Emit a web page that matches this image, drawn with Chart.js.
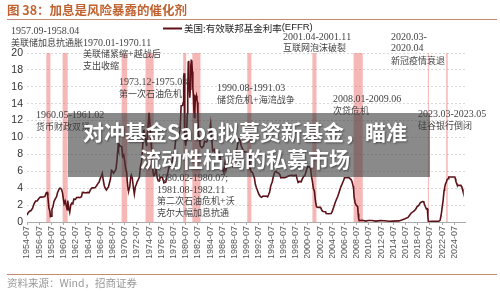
<!DOCTYPE html>
<html>
<head>
<meta charset="utf-8">
<script src="https://cdn.jsdelivr.net/npm/chart.js@4.4.1/dist/chart.umd.min.js"></script>
<style>
  html, body { margin: 0; padding: 0; background: #fff; }
  #wrap { position: relative; width: 500px; height: 292px; }
  #banner {
    position: absolute; left: 68px; top: 113px; width: 362px; height: 64px;
    box-sizing: border-box; padding: 5px 8px 0 0;
    background: rgba(60, 60, 60, 0.6); color: #fff;
    font-family: "Noto Sans CJK SC", sans-serif; font-weight: 700;
    font-size: 21px; line-height: 27px; text-align: center;
    text-shadow: 1px 1px 2px rgba(0, 0, 0, 0.45);
  }
</style>
</head>
<body>
<div id="wrap">
  <canvas id="chart" width="500" height="292"></canvas>
  <div id="banner">对冲基金Saba拟募资新基金，瞄准<br>流动性枯竭的私募市场</div>
</div>
<script>
// EFFR (month, %)
const months = [
  "1954-07","1954-09","1954-12","1955-03","1955-06","1955-09","1955-12","1956-03","1956-06","1956-09","1956-12",
  "1957-03","1957-06","1957-09","1957-11","1957-12","1958-02","1958-04","1958-05","1958-07","1958-08","1958-10","1958-12",
  "1959-03","1959-05","1959-07","1959-09","1959-11","1960-01","1960-03","1960-05","1960-06","1960-08","1960-10","1960-12",
  "1961-02","1961-03","1961-05","1961-07","1961-09","1961-11","1962-01","1962-03","1962-06","1962-09","1962-12",
  "1963-03","1963-06","1963-08","1963-12","1964-03","1964-06","1964-09","1964-12","1965-03","1965-06","1965-09","1965-12",
  "1966-03","1966-05","1966-07","1966-09","1966-11","1967-01","1967-03","1967-05","1967-07","1967-09","1967-11",
  "1968-01","1968-03","1968-05","1968-07","1968-09","1968-12","1969-02","1969-04","1969-06","1969-07","1969-08","1969-10","1969-12",
  "1970-01","1970-03","1970-05","1970-07","1970-09","1970-11","1970-12","1971-02","1971-03","1971-05","1971-07","1971-08","1971-10","1971-12",
  "1972-02","1972-04","1972-06","1972-08","1972-10","1972-12","1973-02","1973-04","1973-06","1973-08","1973-09","1973-11","1973-12",
  "1974-02","1974-04","1974-05","1974-07","1974-09","1974-10","1974-12","1975-02","1975-04","1975-06","1975-08","1975-09","1975-11",
  "1976-01","1976-03","1976-05","1976-07","1976-09","1976-11","1976-12","1977-02","1977-04","1977-06","1977-08","1977-10","1977-12",
  "1978-03","1978-05","1978-07","1978-09","1978-11","1978-12","1979-03","1979-06","1979-08","1979-10","1979-12",
  "1980-01","1980-02","1980-03","1980-04","1980-05","1980-06","1980-07","1980-08","1980-09","1980-10","1980-11","1980-12",
  "1981-01","1981-02","1981-03","1981-04","1981-05","1981-06","1981-07","1981-08","1981-09","1981-10","1981-11","1981-12",
  "1982-01","1982-02","1982-03","1982-04","1982-05","1982-06","1982-07","1982-08","1982-09","1982-10","1982-11","1982-12",
  "1983-03","1983-06","1983-08","1983-12","1984-03","1984-05","1984-08","1984-10","1984-12","1985-03","1985-05","1985-08","1985-12",
  "1986-02","1986-04","1986-08","1986-10","1986-12","1987-02","1987-05","1987-09","1987-12","1988-03","1988-06","1988-09","1988-12",
  "1989-03","1989-05","1989-08","1989-12","1990-03","1990-06","1990-09","1990-11","1990-12","1991-02","1991-04","1991-06","1991-08","1991-10","1991-12",
  "1992-02","1992-04","1992-07","1992-10","1992-12","1993-03","1993-06","1993-09","1993-12","1994-02","1994-04","1994-06","1994-09","1994-11",
  "1995-02","1995-05","1995-07","1995-10","1995-12","1996-02","1996-06","1996-10","1997-03","1997-07","1997-11","1998-03","1998-08","1998-10","1998-12",
  "1999-03","1999-06","1999-08","1999-11","2000-01","2000-03","2000-05","2000-07","2000-11","2000-12",
  "2001-01","2001-02","2001-04","2001-06","2001-08","2001-10","2001-12","2002-03","2002-08","2002-11","2003-01","2003-06","2003-07","2003-12",
  "2004-05","2004-07","2004-09","2004-12","2005-03","2005-06","2005-09","2005-12","2006-03","2006-06","2006-07","2006-12",
  "2007-04","2007-08","2007-10","2007-12","2008-01","2008-02","2008-04","2008-06","2008-09","2008-10","2008-11","2008-12",
  "2009-06","2010-01","2010-06","2011-01","2011-08","2012-06","2013-01","2013-12","2014-06","2015-06","2015-12",
  "2016-06","2016-12","2017-03","2017-06","2017-12","2018-03","2018-06","2018-09","2018-12","2019-04","2019-07","2019-08","2019-10","2019-12",
  "2020-02","2020-03","2020-04","2020-12","2021-06","2021-12","2022-03","2022-05","2022-07","2022-09","2022-11","2022-12",
  "2023-02","2023-03","2023-05","2023-07","2023-08","2024-08","2024-09","2024-10","2024-11","2024-12",
  "2025-01","2025-08","2025-09","2025-10","2025-11","2025-12"
];
const rates = [
  0.80,1.07,1.28,1.35,1.64,2.18,2.48,2.50,2.75,2.96,2.94,
  2.96,3.00,3.47,3.50,2.98,1.67,1.26,0.63,0.68,1.53,1.80,2.42,
  2.80,2.96,3.47,3.76,3.98,3.99,3.84,3.39,2.92,2.17,2.47,1.98,
  1.45,2.54,1.73,1.16,2.00,2.23,2.15,2.71,2.68,2.90,2.93,
  2.88,3.00,3.50,3.48,3.43,3.50,3.45,3.85,4.04,4.04,4.07,4.32,
  4.60,4.76,5.17,5.40,5.76,4.94,4.26,3.98,3.79,3.99,4.12,
  4.61,5.05,6.12,6.02,5.78,6.02,6.30,7.41,8.90,8.61,9.19,9.00,8.97,
  8.98,7.76,7.94,7.21,6.30,5.83,4.90,3.72,3.71,4.15,5.40,5.57,5.20,4.14,
  3.30,4.17,4.46,4.81,5.06,5.33,6.58,7.12,8.49,10.78,10.84,10.03,9.95,
  8.97,10.51,11.31,12.92,11.34,10.06,8.53,6.24,5.49,5.55,6.14,6.24,5.22,
  4.87,4.84,5.29,5.31,5.25,4.95,4.65,4.68,4.73,5.39,5.90,6.47,6.56,
  6.79,7.36,7.81,8.45,9.58,10.03,10.09,10.29,10.94,13.77,13.78,
  13.82,14.13,17.19,17.61,10.98,9.47,9.03,9.61,10.87,12.81,15.85,18.90,
  19.08,15.93,14.70,15.72,18.52,19.10,19.04,17.82,15.87,15.08,13.31,12.37,
  13.22,14.78,14.68,14.94,14.45,14.15,12.59,10.12,10.31,9.71,9.20,8.95,
  8.77,8.98,9.56,9.47,9.91,10.32,11.64,9.99,8.38,8.58,7.97,7.90,8.27,
  7.86,6.99,6.17,5.85,6.91,6.10,6.85,7.22,6.77,6.58,7.51,8.19,8.76,
  9.85,9.81,9.02,8.45,8.28,8.29,8.20,7.81,7.31,6.25,5.91,5.90,5.57,5.21,4.43,
  4.06,3.73,3.25,2.99,2.92,3.07,3.04,3.06,2.96,3.25,3.56,4.25,4.73,5.29,
  5.92,6.01,5.85,5.76,5.60,5.22,5.27,5.24,5.39,5.51,5.52,5.49,5.55,5.07,4.68,
  4.81,4.76,5.07,5.42,5.45,5.85,6.27,6.54,6.51,6.40,
  5.98,5.49,4.80,3.97,3.65,2.49,1.82,1.73,1.74,1.34,1.24,1.22,1.01,0.98,
  1.00,1.26,1.61,2.16,2.63,3.04,3.62,4.16,4.59,4.99,5.24,5.24,
  5.25,5.02,4.76,4.24,3.94,2.98,2.28,2.00,1.81,0.97,0.39,0.16,
  0.21,0.11,0.18,0.17,0.10,0.16,0.14,0.09,0.10,0.13,0.24,
  0.38,0.54,0.79,1.04,1.30,1.51,1.82,1.95,2.27,2.42,2.40,2.13,1.83,1.55,
  1.58,0.65,0.05,0.09,0.08,0.08,0.20,0.77,1.68,2.56,3.78,4.10,
  4.57,4.65,5.06,5.12,5.33,5.33,5.13,4.83,4.64,4.48,
  4.33,4.33,4.22,4.09,3.88,3.64
];
const tickLabels = [
  "1954-07","1956-07","1958-07","1960-07","1962-07","1964-07","1966-07","1968-07","1970-07","1972-07","1974-07","1976-07",
  "1978-07","1980-07","1982-07","1984-07","1986-07","1988-07","1990-07","1992-07","1994-07","1996-07","1998-07","2000-07",
  "2002-07","2004-07","2006-07","2008-07","2010-07","2012-07","2014-07","2016-07","2018-07","2020-07","2022-07","2024-07"
];
// shaded periods, first and last month
const recessions = [
  ["1957-09","1958-04"],["1960-05","1961-02"],["1970-01","1970-11"],["1973-12","1975-03"],
  ["1980-02","1980-07"],["1981-08","1982-11"],["1990-08","1991-03"],["2001-04","2001-11"],
  ["2008-01","2009-06"],["2020-03","2020-04"],["2023-03","2023-05"]
];

// text notes in the plot (pixel layout)
const notes = [
  [11, 31, "1957.09-1958.04"], [11, 43, "美联储加息抗通胀"], [83, 43, "1970.01-1970.11"],
  [83, 54, "美联储紧缩+越战后"], [83, 66, "支出收缩"],
  [119, 82, "1973.12-1975.03"], [119, 94, "第一次石油危机"],
  [36, 115, "1960.05-1961.02"], [36, 127, "货币财政双紧"],
  [217, 88, "1990.08-1991.03"], [217, 100, "储贷危机+海湾战争"],
  [283, 37, "2001.04-2001.11"], [283, 48, "互联网泡沫破裂"],
  [391, 37, "2020.03-"], [391, 48, "2020.04"], [391, 61, "新冠疫情衰退"],
  [333, 99, "2008.01-2009.06"], [333, 111, "次贷危机"],
  [418, 114, "2023.03-2023.05"], [418, 126, "硅谷银行倒闭"],
  [157, 178, "1980.02-1980.07;"], [157, 190, "1981.08-1982.11"],
  [157, 201, "第二次石油危机+沃"], [157, 213, "克尔大幅加息抗通"]
];

function toYear(s) {
  const [y, m] = s.split("-").map(Number);
  return y + (m - 1) / 12;
}

// latin in serif, CJK in Noto, like the source's mixed fonts
function drawMixed(ctx, text, x, y) {
  let cx = x;
  for (const ch of text) {
    const cjk = ch.charCodeAt(0) > 0x2e80;
    ctx.font = cjk ? '9px "Noto Sans CJK SC"' : '10px "Liberation Serif"';
    ctx.fillText(ch, cx, y);
    cx += ctx.measureText(ch).width;
  }
}

const bands = {
  id: "bands",
  beforeDatasetsDraw(chart) {
    const { ctx, chartArea, scales } = chart;
    ctx.save();
    ctx.fillStyle = "rgba(238, 112, 112, 0.5)";
    recessions.forEach(([a, b]) => {
      const x0 = scales.x.getPixelForValue(toYear(a));
      const x1 = scales.x.getPixelForValue(toYear(b) + 1 / 12);
      ctx.fillRect(x0, chartArea.top, x1 - x0, chartArea.bottom - chartArea.top);
    });
    ctx.restore();
  }
};

const decor = {
  id: "decor",
  afterDraw(chart) {
    const ctx = chart.ctx;
    ctx.save();
    ctx.textBaseline = "middle";
    ctx.textAlign = "left";
    // title + rules
    ctx.fillStyle = "#c0622f";
    ctx.font = 'bold 12.5px "Noto Sans CJK SC"';
    ctx.fillText("图 38：加息是风险暴露的催化剂", 7, 10);
    ctx.strokeStyle = "#c48a74";
    ctx.lineWidth = 1;
    ctx.beginPath();
    ctx.moveTo(7, 19.5); ctx.lineTo(497, 19.5);
    ctx.moveTo(7, 274.5); ctx.lineTo(497, 274.5);
    ctx.stroke();
    // legend
    ctx.strokeStyle = "#5c1118";
    ctx.lineWidth = 2;
    ctx.beginPath();
    ctx.moveTo(163, 28.5); ctx.lineTo(182, 28.5);
    ctx.stroke();
    ctx.fillStyle = "#222";
    ctx.font = '9.5px "Noto Sans CJK SC"';
    ctx.fillText("美国:有效联邦基金利率", 184, 28);
    const w = ctx.measureText("美国:有效联邦基金利率").width;
    ctx.font = '9.5px "Liberation Sans"';
    ctx.fillText("(EFFR)", 184 + w, 27);
    // notes
    ctx.fillStyle = "#444";
    notes.forEach(([x, y, t]) => drawMixed(ctx, t, x, y));
    // source
    ctx.fillStyle = "#999";
    ctx.font = '10.5px "Noto Sans CJK SC"';
    ctx.fillText("资料来源：Wind，招商证券", 7, 283);
    ctx.restore();
  }
};

Chart.defaults.font.family = '"Liberation Sans", Arial, sans-serif';

const chart = new Chart(document.getElementById("chart"), {
  type: "line",
  data: {
    datasets: [
      {
        label: "美国:有效联邦基金利率(EFFR)",
        data: months.map((m, i) => ({ x: toYear(m), y: rates[i] })),
        borderColor: "#5c1118",
        borderWidth: 1.6,
        pointRadius: 0,
        tension: 0,
      },
    ],
  },
  options: {
    responsive: false,
    animation: false,
    devicePixelRatio: 1,
    layout: { padding: { top: 53, right: 35, bottom: 34, left: 0 } },
    plugins: { legend: { display: false }, tooltip: { enabled: false } },
    scales: {
      x: {
        type: "linear",
        min: toYear("1954-07"),
        max: 2026.25,
        afterBuildTicks: (scale) => {
          scale.ticks = tickLabels.map((l) => ({ value: toYear(l) }));
        },
        afterFit: (scale) => { scale.height = 36; },
        grid: { drawOnChartArea: false, tickLength: 3, color: "#aaa" },
        border: { color: "#aaa" },
        ticks: {
          autoSkip: false,
          minRotation: 90,
          maxRotation: 90,
          padding: 1,
          color: "#555",
          font: { size: 9 },
          callback: (v, i) => tickLabels[i],
        },
      },
      y: {
        min: 0,
        max: 20,
        afterFit: (scale) => { scale.width = 27; },
        grid: { color: "#d9d9d9", drawTicks: false },
        border: { display: false, dash: [2, 2] },
        ticks: { stepSize: 2, padding: 4, color: "#333", font: { size: 10.5 } },
      },
    },
  },
  plugins: [bands, decor],
});
</script>
</body>
</html>
